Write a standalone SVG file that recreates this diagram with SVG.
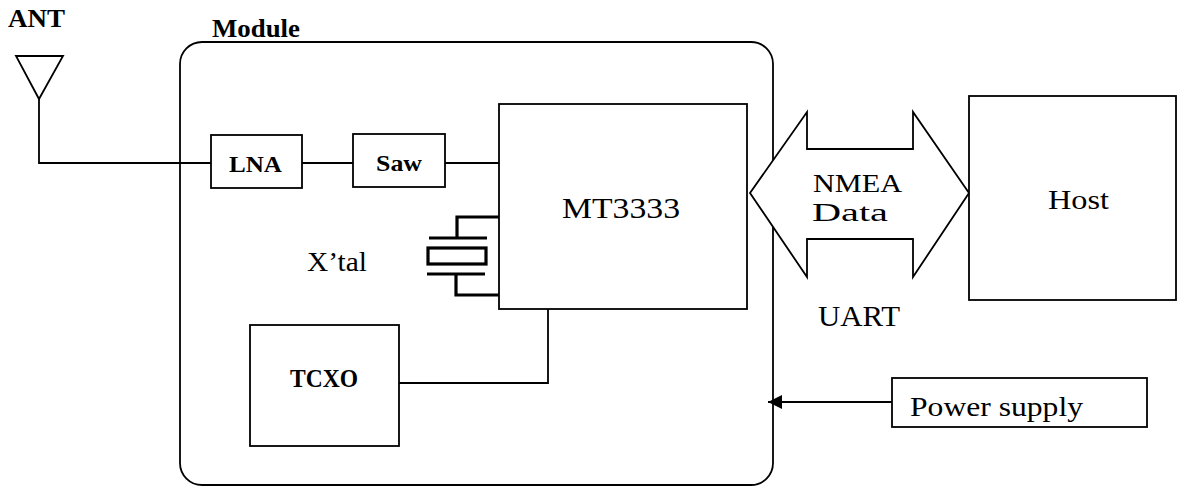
<svg xmlns="http://www.w3.org/2000/svg" width="1178" height="487" viewBox="0 0 1178 487">
<style>
.box{fill:#fff;stroke:#000;stroke-width:1.8}
.ln{fill:none;stroke:#000;stroke-width:1.8}
.xl{fill:none;stroke:#000;stroke-width:3.2}
.t{font-family:"Liberation Serif","Times New Roman",serif;fill:#000}
.b{font-weight:bold}
</style>
<defs>
<marker id="ah" viewBox="0 0 10 10" refX="10" refY="5" markerWidth="14" markerHeight="14" markerUnits="userSpaceOnUse" orient="auto">
<path d="M0,0 L10,5 L0,10 z" fill="#000"/>
</marker>
</defs>
<g id="module">
<rect x="180" y="42" width="593" height="443" rx="22" class="box"/>
<text class="t b" x="212" y="37" font-size="26" textLength="88" lengthAdjust="spacingAndGlyphs">Module</text>
</g>
<g id="ant">
<polygon points="16,56 63,56 39,99" class="ln"/>
<text class="t b" x="8" y="27" font-size="26" textLength="57" lengthAdjust="spacingAndGlyphs">ANT</text>
</g>
<g id="connectors">
<polyline points="39,99 39,163 211,163" class="ln"/>
<line x1="302" y1="163" x2="353" y2="163" class="ln"/>
<line x1="445" y1="163" x2="499" y2="163" class="ln"/>
<polyline points="399,383 548,383 548,309" class="ln"/>
<polyline points="499,217 457,217 457,238" class="xl"/>
<polyline points="499,295 456,295 456,274" class="xl"/>
<line x1="892" y1="402" x2="768" y2="402" class="ln" marker-end="url(#ah)"/>
</g>
<g id="lna">
<rect x="211" y="135" width="91" height="53" class="box"/>
<text class="t b" x="229" y="172" font-size="24" textLength="53" lengthAdjust="spacingAndGlyphs">LNA</text>
</g>
<g id="saw">
<rect x="353" y="134" width="92" height="53" class="box"/>
<text class="t b" x="376" y="171" font-size="24" textLength="46" lengthAdjust="spacingAndGlyphs">Saw</text>
</g>
<g id="mt3333">
<rect x="499" y="104" width="248" height="205" class="box"/>
<text class="t" x="562" y="218" font-size="29" textLength="118" lengthAdjust="spacingAndGlyphs">MT3333</text>
</g>
<g id="xtal">
<line x1="429" y1="238" x2="487" y2="238" class="xl"/>
<rect x="428" y="248" width="58" height="16" class="xl"/>
<line x1="427" y1="274" x2="485" y2="274" class="xl"/>
<text class="t" x="307" y="271" font-size="28" textLength="60" lengthAdjust="spacingAndGlyphs">X’tal</text>
</g>
<g id="tcxo">
<rect x="250" y="325" width="149" height="121" class="box"/>
<text class="t b" x="290" y="387" font-size="26" textLength="68" lengthAdjust="spacingAndGlyphs">TCXO</text>
</g>
<g id="nmea">
<polygon points="750,193 807,112 807,149 913,149 913,112 969,193 913,277 913,239 807,239 807,277" class="box"/>
<text class="t" x="813" y="192" font-size="25" textLength="89" lengthAdjust="spacingAndGlyphs">NMEA</text>
<text class="t" x="812" y="221" font-size="25" textLength="76" lengthAdjust="spacingAndGlyphs">Data</text>
</g>
<g id="uart">
<text class="t" x="818" y="326" font-size="29" textLength="82" lengthAdjust="spacingAndGlyphs">UART</text>
</g>
<g id="host">
<rect x="969" y="96" width="207" height="204" class="box"/>
<text class="t" x="1048" y="209" font-size="28" textLength="61" lengthAdjust="spacingAndGlyphs">Host</text>
</g>
<g id="power">
<rect x="892" y="378" width="255" height="49" class="box"/>
<text class="t" x="910" y="416" font-size="28" textLength="173" lengthAdjust="spacingAndGlyphs">Power supply</text>
</g>
</svg>
